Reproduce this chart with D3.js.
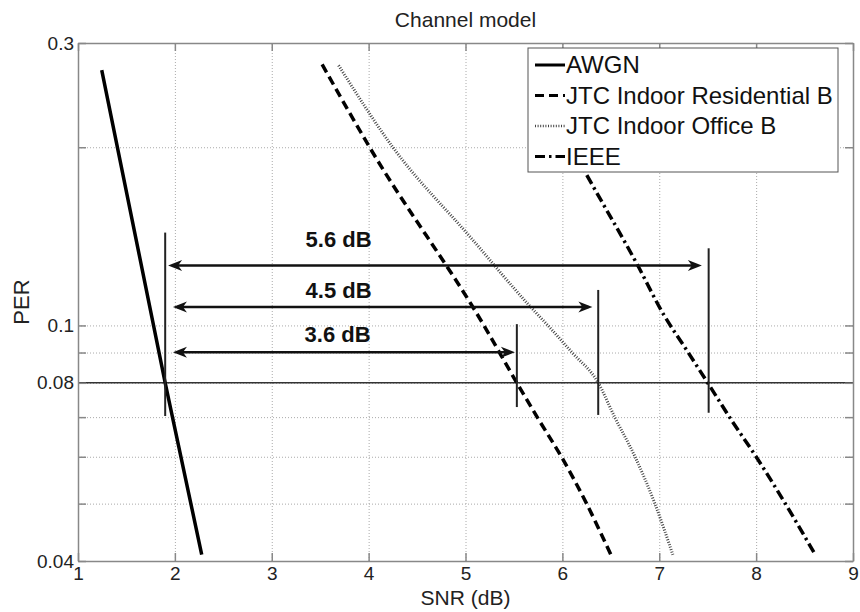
<!DOCTYPE html>
<html>
<head>
<meta charset="utf-8">
<script src="https://cdn.jsdelivr.net/npm/d3@7"></script>
<style>
  body { margin: 0; background: #fff; }
  svg { font-family: "Liberation Sans", Arial, sans-serif; }
</style>
</head>
<body>
<div id="chart"></div>
<script>
// axis ticks
var xTicks = [1, 2, 3, 4, 5, 6, 7, 8, 9]
var yTicks = [0.04, 0.05, 0.06, 0.07, 0.08, 0.09, 0.1, 0.2, 0.3]
var yLabels = [0.04, 0.08, 0.1, 0.3]
var yGrid = [0.05, 0.06, 0.07, 0.08, 0.09, 0.1, 0.2]

// series (SNR in dB, PER)
var awgnSnr = [1.245, 1.9, 2.277]
var awgnPer = [0.270, 0.08, 0.041]
var resSnr = [3.52, 4.01, 5.19, 5.53, 5.74, 5.99, 6.25, 6.50]
var resPer = [0.276, 0.2, 0.1, 0.08, 0.07, 0.06, 0.05, 0.041]
var officeSnr = [3.69, 4.25, 5.05, 5.66, 5.85, 6.10, 6.37, 6.54, 6.75, 6.955, 7.14]
var officePer = [0.275, 0.2, 0.141, 0.108, 0.1, 0.09, 0.08, 0.07, 0.06, 0.05, 0.041]
var ieeeSnr = [5.75, 6.24, 6.77, 7.05, 7.28, 7.5, 7.75, 8.0, 8.27, 8.61]
var ieeePer = [0.255, 0.181, 0.127, 0.104, 0.091, 0.08, 0.069, 0.06, 0.051, 0.041]

var seriesNames = ["AWGN", "JTC Indoor Residential B", "JTC Indoor Office B", "IEEE"]

// annotations
var refPer = 0.08
var markerSnr = [1.9, 5.53, 6.37, 7.51]
var markerTop = [0.1435, 0.1005, 0.1148, 0.135]
var markerBottom = [0.0703, 0.0728, 0.0706, 0.0712]
var gapLabels = ["5.6 dB", "4.5 dB", "3.6 dB"]
var gapArrowPer = [0.1262, 0.1074, 0.0901]
var gapArrowFrom = [1.93, 1.98, 1.98]
var gapArrowTo = [7.44, 6.31, 5.51]
var gapLabelSnr = [3.69, 3.69, 3.68]
var gapLabelPer = [0.1355, 0.1111, 0.0937]

var width = 860, height = 612
var margin = {top: 43, right: 7, bottom: 51, left: 78}
var w = width - margin.left - margin.right
var h = height - margin.top - margin.bottom

var svg = d3.select("#chart").append("svg")
    .attr("width", width)
    .attr("height", height)

var g = svg.append("g").attr("transform", "translate(" + margin.left + "," + margin.top + ")")

var x = d3.scaleLinear().domain([1, 9]).range([0, w])
var y = d3.scaleLog().domain([0.04, 0.3]).range([h, 0])

// grid
var gridX = g.append("g")
    .attr("transform", "translate(0," + h + ")")
    .call(d3.axisBottom(x).tickValues(xTicks.slice(1, -1)).tickSize(-h).tickFormat(""))
var gridY = g.append("g")
    .call(d3.axisLeft(y).tickValues(yGrid).tickSize(-w).tickFormat(""))
;[gridX, gridY].forEach(function(s) {
    s.select(".domain").remove()
    s.selectAll("line")
        .attr("stroke", "#aaa")
        .attr("stroke-width", 1)
        .attr("stroke-dasharray", "1,2")
})

// reference PER line
g.append("line")
    .attr("x1", 0).attr("x2", w)
    .attr("y1", y(refPer)).attr("y2", y(refPer))
    .attr("stroke", "#333")
    .attr("stroke-width", 1.5)

// axes
var fmt = function(d) { return yLabels.indexOf(d) >= 0 ? String(d) : "" }

var axB = g.append("g")
    .attr("transform", "translate(0," + h + ")")
    .call(d3.axisBottom(x).tickValues(xTicks).tickSizeInner(-8).tickSizeOuter(0).tickPadding(6).tickFormat(d3.format("d")))
var axT = g.append("g")
    .call(d3.axisTop(x).tickValues(xTicks).tickSizeInner(-8).tickSizeOuter(0).tickFormat(""))
var axL = g.append("g")
    .call(d3.axisLeft(y).tickValues(yTicks).tickSizeInner(-8).tickSizeOuter(0).tickPadding(4).tickFormat(fmt))
var axR = g.append("g")
    .attr("transform", "translate(" + w + ",0)")
    .call(d3.axisRight(y).tickValues(yTicks).tickSizeInner(-8).tickSizeOuter(0).tickFormat(""))

;[axB, axT, axL, axR].forEach(function(s) {
    s.select(".domain").attr("stroke", "#888").attr("stroke-width", 1.5)
    s.selectAll(".tick line").attr("stroke", "#888").attr("stroke-width", 1.5)
    s.selectAll("text")
        .attr("fill", "#222")
        .style("font-size", "19px")
        .style("font-family", "\"Liberation Sans\", Arial, sans-serif")
})

// curves
var line = d3.line()
    .curve(d3.curveMonotoneX)
    .x(function(d) { return x(d[0]) })
    .y(function(d) { return y(d[1]) })

var series = [
    {snr: awgnSnr, per: awgnPer, color: "#000", width: 3.5, dash: null},
    {snr: resSnr, per: resPer, color: "#000", width: 3.5, dash: "9,5"},
    {snr: officeSnr, per: officePer, color: "#444", width: 3, dash: "1,1.6"},
    {snr: ieeeSnr, per: ieeePer, color: "#000", width: 3.5, dash: "10,4,2.5,4"}
]

g.append("g").selectAll("path")
    .data(series)
    .enter()
    .append("path")
    .attr("d", function(s) { return line(d3.zip(s.snr, s.per)) })
    .attr("fill", "none")
    .attr("stroke", function(s) { return s.color })
    .attr("stroke-width", function(s) { return s.width })
    .attr("stroke-dasharray", function(s) { return s.dash })

// vertical markers
g.append("g").selectAll("line")
    .data(markerSnr)
    .enter()
    .append("line")
    .attr("x1", function(d) { return x(d) })
    .attr("x2", function(d) { return x(d) })
    .attr("y1", function(d, i) { return y(markerTop[i]) })
    .attr("y2", function(d, i) { return y(markerBottom[i]) })
    .attr("stroke", "#222")
    .attr("stroke-width", 2)

// double arrows
function arrowHead(tx, ty, dir) {
    return "M" + tx + "," + ty +
        "L" + (tx - dir * 14) + "," + (ty - 5.5) +
        "L" + (tx - dir * 10) + "," + ty +
        "L" + (tx - dir * 14) + "," + (ty + 5.5) + "Z"
}

var arrows = g.append("g").selectAll("g")
    .data(gapLabels)
    .enter()
    .append("g")

arrows.append("line")
    .attr("x1", function(d, i) { return x(gapArrowFrom[i]) + 4 })
    .attr("x2", function(d, i) { return x(gapArrowTo[i]) - 4 })
    .attr("y1", function(d, i) { return y(gapArrowPer[i]) })
    .attr("y2", function(d, i) { return y(gapArrowPer[i]) })
    .attr("stroke", "#111")
    .attr("stroke-width", 2.5)

arrows.append("path")
    .attr("d", function(d, i) { return arrowHead(x(gapArrowFrom[i]), y(gapArrowPer[i]), -1) })
    .attr("fill", "#111")

arrows.append("path")
    .attr("d", function(d, i) { return arrowHead(x(gapArrowTo[i]), y(gapArrowPer[i]), 1) })
    .attr("fill", "#111")

arrows.append("text")
    .attr("x", function(d, i) { return x(gapLabelSnr[i]) })
    .attr("y", function(d, i) { return y(gapLabelPer[i]) })
    .attr("text-anchor", "middle")
    .attr("font-size", "22px")
    .attr("font-weight", "bold")
    .attr("fill", "#111")
    .text(function(d) { return d })

// legend
var legend = svg.append("g").attr("transform", "translate(528,48)")
legend.append("rect")
    .attr("width", 310)
    .attr("height", 124)
    .attr("fill", "#fff")
    .attr("stroke", "#555")
    .attr("stroke-width", 1)

var items = legend.selectAll(".item")
    .data(seriesNames)
    .enter()
    .append("g")
    .attr("class", "item")
    .attr("transform", function(d, i) { return "translate(0," + (17 + i * 30.5) + ")" })

items.append("line")
    .attr("x1", 7).attr("x2", 37)
    .attr("stroke", function(d, i) { return series[i].color })
    .attr("stroke-width", function(d, i) { return series[i].width - 0.5 })
    .attr("stroke-dasharray", function(d, i) { return series[i].dash })

items.append("text")
    .attr("x", 38)
    .attr("dy", "0.35em")
    .attr("font-size", "24px")
    .attr("fill", "#111")
    .text(function(d) { return d })

// titles
svg.append("text")
    .attr("x", margin.left + w / 2)
    .attr("y", 27)
    .attr("text-anchor", "middle")
    .attr("font-size", "21px")
    .attr("fill", "#222")
    .text("Channel model")

svg.append("text")
    .attr("x", margin.left + w / 2)
    .attr("y", 605)
    .attr("text-anchor", "middle")
    .attr("font-size", "21px")
    .attr("fill", "#222")
    .text("SNR (dB)")

svg.append("text")
    .attr("transform", "translate(29," + (margin.top + h / 2) + ") rotate(-90)")
    .attr("text-anchor", "middle")
    .attr("font-size", "22px")
    .attr("fill", "#222")
    .text("PER")
</script>
</body>
</html>
